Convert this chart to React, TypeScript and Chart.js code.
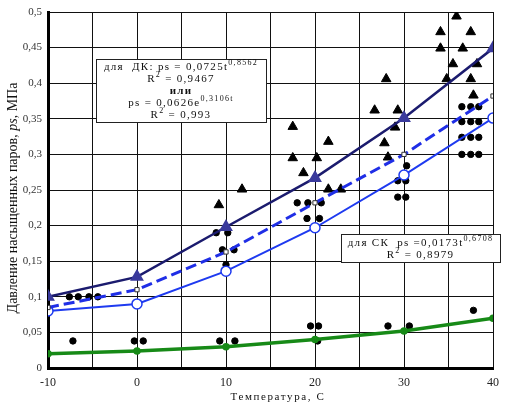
import { useEffect, useRef } from 'react';
import Chart from 'chart.js/auto';

// fitted curves, values at the temperatures below
const temps = [-10, 0, 10, 20, 30, 40];
const dkFit = [0.1, 0.128, 0.198, 0.267, 0.351, 0.449];
const dkMean = [0.085, 0.11, 0.163, 0.232, 0.3, 0.382];
const skFit = [0.08, 0.09, 0.136, 0.197, 0.271, 0.351];
const lowFit = [0.02, 0.024, 0.03, 0.04, 0.052, 0.07];

// experimental points (triangles)
const triX = [9.2, 11.8, 17.5, 17.5, 18.7, 20.2, 21.5, 21.5, 22.9, 26.7, 28, 29.3, 29, 27.8, 28.2, 34.1, 34.1, 35.9, 37.5, 36.6, 35.5, 38.2, 34.8, 37.5, 37.8];
const triY = [0.229, 0.251, 0.339, 0.295, 0.274, 0.295, 0.318, 0.251, 0.251, 0.362, 0.406, 0.362, 0.338, 0.316, 0.296, 0.472, 0.449, 0.494, 0.472, 0.449, 0.427, 0.427, 0.406, 0.406, 0.383];

// experimental points (dots)
const dotX = [-7.6, -6.6, -5.4, -4.4, -7.2, -0.3, 0.7, 9.3, 11, 10, 8.9, 10.2, 9.6, 10.9, 18, 19.2, 20.7, 19.1, 20.5, 19.5, 20.4, 20.3, 28.2, 30.6, 37.8, 30.3, 29.3, 30.2, 29.3, 30.2,
  36.5, 37.5, 38.4, 36.5, 37.5, 38.4, 36.5, 37.5, 38.4, 36.5, 37.5, 38.4];
const dotY = [0.1, 0.1, 0.1, 0.1, 0.038, 0.038, 0.038, 0.038, 0.038, 0.145, 0.19, 0.19, 0.166, 0.166, 0.232, 0.232, 0.232, 0.21, 0.21, 0.059, 0.059, 0.038, 0.059, 0.059, 0.081, 0.284, 0.263, 0.263, 0.24, 0.24,
  0.367, 0.367, 0.367, 0.346, 0.346, 0.346, 0.324, 0.324, 0.324, 0.3, 0.3, 0.3];

const xTicks = [-10, 0, 10, 20, 30, 40];

const FONT = '"Liberation Serif", "Times New Roman", serif';

type Seg = { t: string; sup?: boolean; bold?: boolean; italic?: boolean };

const box1: Seg[][] = [
  [{ t: 'для  ДК: ps = 0,0725t' }, { t: '0,8562', sup: true }],
  [{ t: 'R' }, { t: '2', sup: true }, { t: ' = 0,9467' }],
  [{ t: 'или', bold: true }],
  [{ t: 'ps = 0,0626e' }, { t: '0,3106t', sup: true }],
  [{ t: 'R' }, { t: '2', sup: true }, { t: ' = 0,993' }],
];
const box2: Seg[][] = [
  [{ t: 'для СК  ps =0,0173t' }, { t: '0,6708', sup: true }],
  [{ t: 'R' }, { t: '2', sup: true }, { t: ' = 0,8979' }],
];

function segFont(s: Seg, size: number) {
  const sz = s.sup ? Math.round(size * 0.72) : size;
  return `${s.italic ? 'italic ' : ''}${s.bold ? 'bold ' : ''}${sz}px ${FONT}`;
}

function drawRich(ctx: any, segs: Seg[], cx: number, cy: number, size: number, spacing: number) {
  ctx.letterSpacing = spacing + 'px';
  let total = 0;
  const widths = segs.map(s => {
    ctx.font = segFont(s, size);
    const w = ctx.measureText(s.t).width;
    total += w;
    return w;
  });
  let x = cx - total / 2;
  ctx.textAlign = 'left';
  ctx.textBaseline = 'middle';
  segs.forEach((s, i) => {
    ctx.font = segFont(s, size);
    ctx.fillText(s.t, x, s.sup ? cy - size * 0.38 : cy);
    x += widths[i];
  });
  ctx.letterSpacing = '0px';
}

function drawBox(ctx: any, lines: Seg[][], left: number, top: number, w: number, h: number, lineH: number) {
  ctx.save();
  ctx.fillStyle = '#fff';
  ctx.fillRect(left, top, w, h);
  ctx.strokeStyle = '#222';
  ctx.lineWidth = 1;
  ctx.strokeRect(left + 0.5, top + 0.5, w, h);
  ctx.fillStyle = '#111';
  const start = top + h / 2 - ((lines.length - 1) * lineH) / 2 + 1;
  lines.forEach((l, i) => drawRich(ctx, l, left + w / 2, start + i * lineH, 11, 1.3));
  ctx.restore();
}

const overlay = {
  id: 'overlay',
  afterDraw(chart: any) {
    const ctx = chart.ctx;
    const a = chart.chartArea;
    drawBox(ctx, box1, a.left + 48, a.top + 47, 170, 63, 12);
    drawBox(ctx, box2, a.left + 293, a.top + 222, 159, 28, 11.5);

    ctx.save();
    ctx.fillStyle = '#111';
    // x axis title
    drawRich(ctx, [{ t: 'Температура, С' }], a.left + 230, a.bottom + 29, 11, 1.6);
    // y axis title
    ctx.translate(13, (a.top + a.bottom) / 2 + 8);
    ctx.rotate(-Math.PI / 2);
    drawRich(ctx, [{ t: 'Давление насыщенных паров, ' }, { t: 'ps', italic: true }, { t: ', МПа' }], 0, 0, 14, 0);
    ctx.restore();
  },
};

function line(values: number[]) {
  return temps.map((t, i) => ({ x: t, y: values[i] }));
}

export default function App() {
  const chartRef = useRef<HTMLCanvasElement>(null);
  const chartInstance = useRef<Chart | null>(null);

  useEffect(() => {
    document.body.style.margin = '0';
    if (!chartRef.current) return;
    if (chartInstance.current) chartInstance.current.destroy();
    const ctx = chartRef.current.getContext('2d');
    if (!ctx) return;

    chartInstance.current = new Chart(ctx, {
      type: 'scatter',
      data: {
        datasets: [
          {
            label: 'ДК',
            data: line(dkFit),
            showLine: true,
            borderColor: '#1b1b6e',
            borderWidth: 2.5,
            pointStyle: 'triangle',
            pointRadius: 5.5,
            pointBackgroundColor: '#3a3a9c',
            pointBorderColor: '#3a3a9c',
          },
          {
            label: 'ДК ср.',
            data: line(dkMean),
            showLine: true,
            borderColor: '#1f2ee6',
            borderWidth: 3,
            borderDash: [11, 5],
            pointStyle: 'rect',
            pointRadius: 3,
            pointBackgroundColor: '#fff',
            pointBorderColor: '#333',
            pointBorderWidth: 1,
          },
          {
            label: 'СК',
            data: line(skFit),
            showLine: true,
            borderColor: '#1e3af0',
            borderWidth: 2,
            pointStyle: 'circle',
            pointRadius: 5,
            pointBackgroundColor: '#fff',
            pointBorderColor: '#1e3af0',
            pointBorderWidth: 1.5,
          },
          {
            label: 'low',
            data: line(lowFit),
            showLine: true,
            borderColor: '#178a17',
            borderWidth: 3.5,
            pointStyle: 'circle',
            pointRadius: 2,
            pointBackgroundColor: '#178a17',
            pointBorderColor: '#178a17',
          },
          {
            label: 'tri',
            data: triX.map((x, i) => ({ x, y: triY[i] })),
            pointStyle: 'triangle',
            pointRadius: 5.5,
            pointBackgroundColor: '#000',
            pointBorderColor: '#000',
          },
          {
            label: 'dot',
            data: dotX.map((x, i) => ({ x, y: dotY[i] })),
            pointStyle: 'circle',
            pointRadius: 3.2,
            pointBackgroundColor: '#000',
            pointBorderColor: '#000',
          },
        ],
      },
      options: {
        responsive: false,
        animation: false,
        layout: { padding: { top: 12, right: 12, left: 0, bottom: 0 } },
        plugins: {
          legend: { display: false },
          tooltip: { enabled: false },
        },
        scales: {
          x: {
            type: 'linear',
            min: -10,
            max: 40,
            afterFit: (s: any) => {
              s.height = 39;
              s.paddingLeft = 0;
              s.paddingRight = 0;
            },
            afterBuildTicks: (s: any) => {
              const t = [];
              for (let v = -10; v <= 40; v += 5) t.push({ value: v });
              s.ticks = t;
            },
            ticks: {
              autoSkip: false,
              maxRotation: 0,
              padding: 8,
              color: '#222',
              font: { family: FONT, size: 12 },
              callback: (v: any) => (xTicks.includes(Number(v)) ? String(v) : ''),
            },
            grid: { color: '#111', lineWidth: 1, drawTicks: false },
            border: { color: '#000', width: 3 },
          },
          y: {
            type: 'linear',
            min: 0,
            max: 0.5,
            afterFit: (s: any) => {
              s.width = 48;
              s.paddingTop = 0;
              s.paddingBottom = 0;
            },
            ticks: {
              stepSize: 0.05,
              padding: 6,
              color: '#333',
              font: { family: FONT, size: 11 },
              callback: (v: any) => String(parseFloat(Number(v).toFixed(2))).replace('.', ','),
            },
            grid: { color: '#111', lineWidth: 1, drawTicks: false },
            border: { color: '#000', width: 3 },
          },
        },
      },
      plugins: [overlay],
    });

    return () => {
      if (chartInstance.current) {
        chartInstance.current.destroy();
        chartInstance.current = null;
      }
    };
  }, []);

  return (
    <div style={{ width: 505, height: 407 }}>
      <canvas ref={chartRef} width={505} height={407}></canvas>
    </div>
  );
}
